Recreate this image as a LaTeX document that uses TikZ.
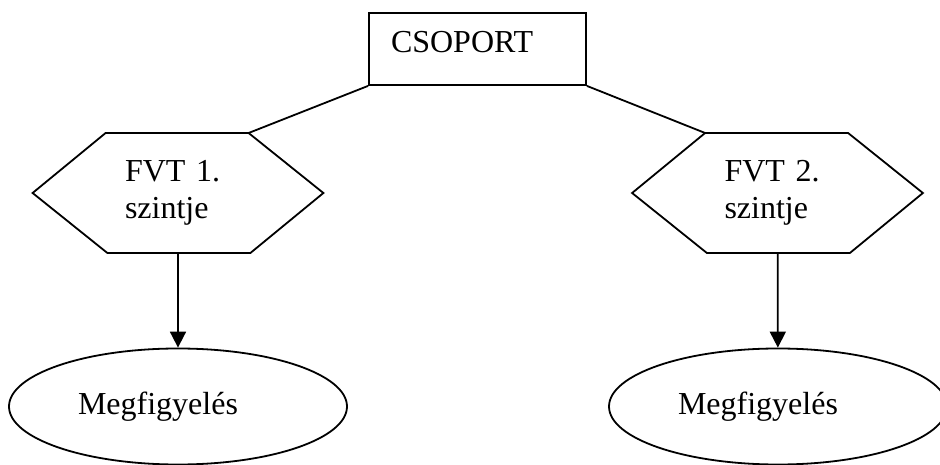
\documentclass[tikz,border=0pt]{standalone}
\usepackage{fontspec}
\setmainfont{Liberation Serif}
\usetikzlibrary{shapes.geometric,arrows.meta}
\begin{document}
\begin{tikzpicture}[x=1pt, y=-1pt, line width=1.8pt]
\tikzstyle{every node}=[font=\fontsize{32}{36.5}\selectfont]
\tikzstyle{groupbox}=[rectangle, minimum width=217pt, minimum height=72pt, inner sep=0pt, text width=173pt, align=left, text height=21pt, text depth=13pt, draw=black]
\tikzstyle{fvtbox}=[rectangle, minimum width=289pt, minimum height=120pt, inner sep=0pt, text width=106pt, align=left]
\tikzstyle{obsbox}=[ellipse, minimum width=338pt, minimum height=116pt, inner sep=0pt, text width=200pt, align=left, draw=black]
\useasboundingbox (0,0) rectangle (940,465);

% Group node
\node[groupbox] (csoport) at (477.5,49) {CSOPORT};

% FVT levels
\node[fvtbox] (fvt1) at (178,193) {FVT 1.\\szintje};
\node[fvtbox] (fvt2) at (777.5,193) {FVT 2.\\szintje};

% Hexagon outlines
\draw (fvt1.west) -- ++(73,-60) coordinate (fvt1 top left) -- ++(143,0) coordinate (fvt1 top right)
  -- (fvt1.east) -- ++(-73,60) -- ++(-143,0) -- cycle;
\draw (fvt2.west) -- ++(73,-60) coordinate (fvt2 top left) -- ++(143,0) coordinate (fvt2 top right)
  -- (fvt2.east) -- ++(-73,60) -- ++(-143,0) -- cycle;

% Observation nodes
\node[obsbox] (obs1) at (178,406.5) {Megfigyel\'es};
\node[obsbox] (obs2) at (778,406.5) {Megfigyel\'es};

% Connect nodes
\draw (csoport.south west) -- (fvt1 top right);
\draw (csoport.south east) -- (fvt2 top left);

\draw[-{Triangle[length=16pt,width=16pt]}] (fvt1) -- (obs1);
\draw[-{Triangle[length=16pt,width=16pt]}] (fvt2) -- (obs2);
\end{tikzpicture}
\end{document}
